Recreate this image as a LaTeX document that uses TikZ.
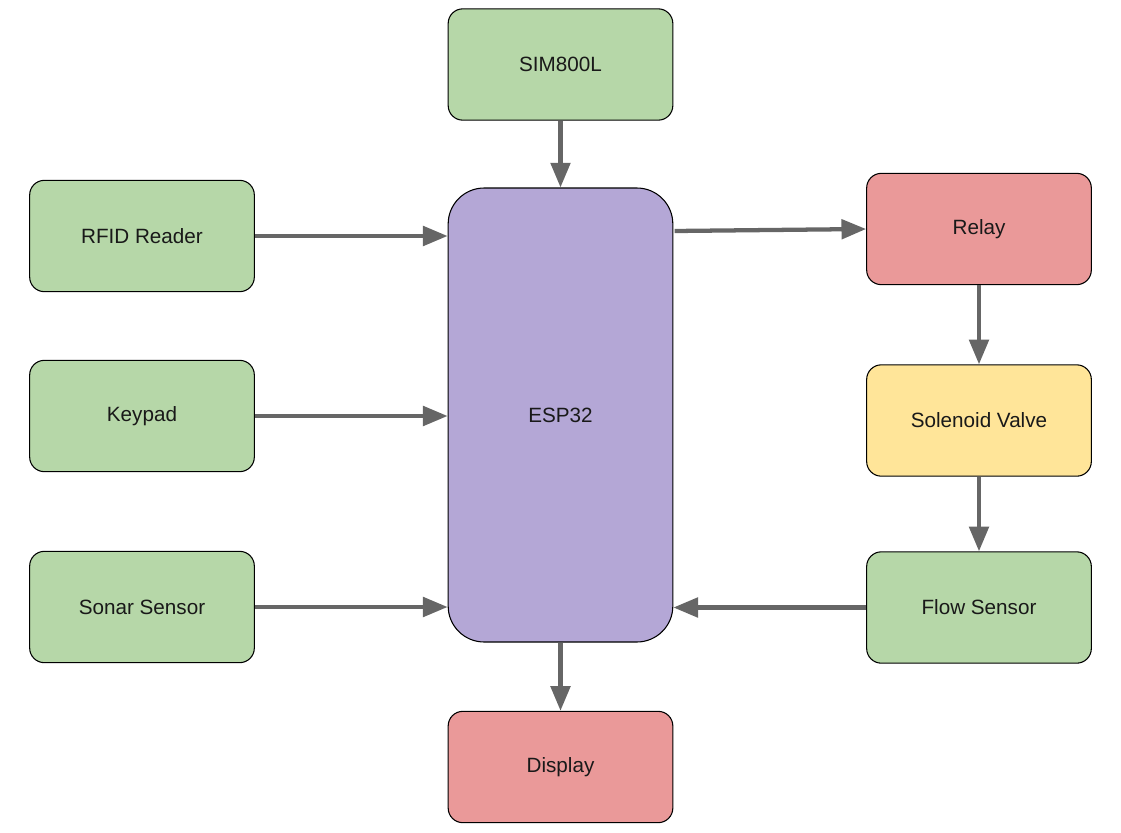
\documentclass[tikz,border=0pt]{standalone}
\usepackage{fontspec}
\setmainfont{Liberation Sans}
\usetikzlibrary{arrows.meta}
\definecolor{cgreen}{HTML}{B6D7A8}
\definecolor{cpurple}{HTML}{B4A7D6}
\definecolor{cred}{HTML}{EA9999}
\definecolor{cyellow}{HTML}{FFE599}
\definecolor{carrow}{HTML}{666666}
\begin{document}
\begin{tikzpicture}[x=0.75pt,y=-0.75pt,
  box/.style={draw=black,line width=0.8pt,rounded corners=11pt,minimum width=168.5pt,minimum height=83.5pt,
    font=\fontsize{15.5}{18}\selectfont,text=black!90,inner sep=0pt},
  arr/.style={draw=carrow,line width=3.2pt,-{Triangle[length=18.5pt,width=14.5pt]}}]
\useasboundingbox (0,0) rectangle (1121,832);
\node[box,fill=cgreen] (sim) at (560.5,64.5) {SIM800L};
\node[box,fill=cpurple,minimum height=340.5pt,rounded corners=27pt] (esp) at (560.5,415) {ESP32};
\node[box,fill=cgreen] (rfid) at (142,236) {RFID Reader};
\node[box,fill=cgreen] (key) at (142,416) {Keypad};
\node[box,fill=cgreen] (sonar) at (142,607) {Sonar Sensor};
\node[box,fill=cred] (relay) at (979,229) {Relay};
\node[box,fill=cyellow] (sol) at (979,420.5) {Solenoid Valve};
\node[box,fill=cgreen] (flow) at (979,607.5) {Flow Sensor};
\node[box,fill=cred] (disp) at (560.5,767) {Display};
\draw[arr] (sim) -- (esp);
\draw[arr] (rfid.east) -- (rfid.east -| esp.west);
\draw[arr] (key.east) -- (key.east -| esp.west);
\draw[arr] (sonar.east) -- (sonar.east -| esp.west);
\draw[arr] ([yshift=138pt,xshift=1pt]esp.east) -- (relay.west);
\draw[arr] (relay) -- (sol);
\draw[arr] (sol) -- (flow);
\draw[arr] (flow.west) -- (flow.west -| esp.east);
\draw[arr] (esp) -- (disp);
\end{tikzpicture}
\end{document}
